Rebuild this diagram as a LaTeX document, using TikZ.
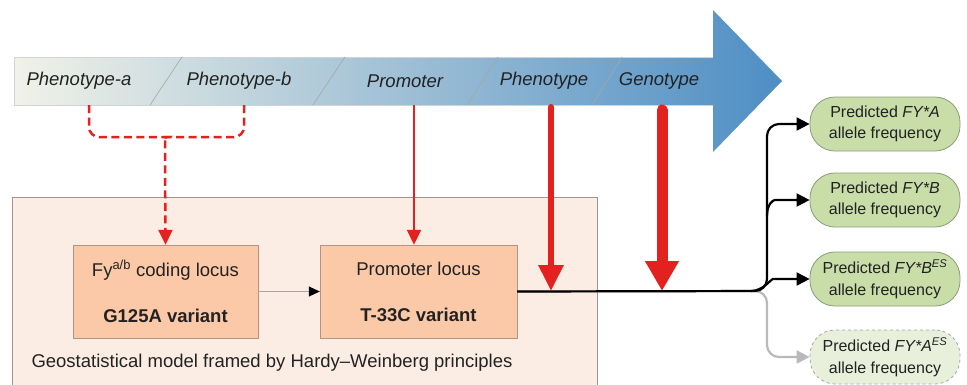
\documentclass[tikz,border=0pt]{standalone}
\usepackage{fontspec}
\setmainfont{Liberation Sans}
\usetikzlibrary{arrows.meta,calc}

\definecolor{fyred}{HTML}{E3211F}
\definecolor{peach}{HTML}{FCC9A8}
\definecolor{peachline}{HTML}{B39382}
\definecolor{bgpeach}{HTML}{FCEDE4}
\definecolor{bgline}{HTML}{9E9490}
\definecolor{leafgreen}{HTML}{C8DDA8}
\definecolor{leafline}{HTML}{8C9C78}
\definecolor{paleleaf}{HTML}{E8F0DB}
\definecolor{bandleft}{HTML}{F1F2E8}
\definecolor{bandmid}{HTML}{A8C4D7}
\definecolor{bandright}{HTML}{4E8EC4}
\definecolor{txt}{HTML}{222222}

\begin{document}
\begin{tikzpicture}[x=1pt,y=-1pt,
	every node/.style={text=txt},
	phase/.style={font=\fontsize{18.5}{20}\selectfont\itshape},
	locus/.style={draw=peachline,fill=peach,minimum height=93pt,align=center,font=\fontsize{18.5}{20}\selectfont},
	freq/.style={draw=leafline,fill=leafgreen,rounded corners=25pt,minimum width=150pt,minimum height=54pt,align=center,font=\fontsize{16}{21.5}\selectfont,line width=0.8pt},
	conn/.style={line width=2.2pt,rounded corners=12pt,-{Triangle[width=13pt,length=13pt]}},
	reddash/.style={fyred,line width=2.5pt,dash pattern=on 8pt off 4.5pt,-{Triangle[width=14pt,length=15pt]}}]
	\useasboundingbox (0,0) rectangle (967,384);
	%\draw[gray,step=50] (0,0) grid (967,384);

	% the big arrow
	\shade[left color=bandleft,middle color=bandmid,right color=bandright] (14,57) -- (713,57) -- (713,10) -- (782,81) -- (713,152) -- (713,105) -- (14,105) -- cycle;
	\draw[gray!35,line width=0.6pt] (713,57) -- (14,57) -- (14,105) -- (713,105);
	\foreach \xt/\xb in {182/150,345/313,498/467,622/592}
		\draw[gray!70,line width=0.6pt] (\xt,57) -- (\xb,105);
	\node[phase] (pa) at (79,81) {Phenotype-a};
	\node[phase] (pb) at (239,81) {Phenotype-b};
	\node[phase] (prom) at (405,81) {Promoter};
	\node[phase] (phen) at (544,81) {Phenotype};
	\node[phase] (geno) at (659,81) {Genotype};

	% model frame
	\node[draw=bgline,fill=bgpeach,line width=0.8pt,minimum width=585pt,minimum height=200pt,anchor=north west] (model) at (12,197) {};
	\node[anchor=west,font=\fontsize{18.5}{20}\selectfont] (hw) at (28,363) {Geostatistical model framed by Hardy--Weinberg principles};
	\node[locus,minimum width=185pt] (fy) at (165.5,291.5) {Fy\textsuperscript{a/b} coding locus\\[26pt]\textbf{G125A variant}};
	\node[locus,minimum width=197pt] (pl) at (418.5,291.5) {Promoter locus\\[26pt]\textbf{T-33C variant}};
	\draw[gray!70,line width=1pt,-{Triangle[width=10pt,length=11pt,black]}] (fy.east) -- (pl.west);

	% outcomes
	\node[freq] (fyA) at (885,124) {Predicted \textit{FY*A}\\allele frequency};
	\node[freq] (fyB) at (885,200) {Predicted \textit{FY*B}\\allele frequency};
	\node[freq] (fyBes) at (885,279) {Predicted \textit{FY*B\textsuperscript{ES}}\\allele frequency};
	\node[freq,fill=paleleaf,draw=gray!70,dashed] (fyAes) at (885,357) {Predicted \textit{FY*A\textsuperscript{ES}}\\allele frequency};

	\coordinate (split) at (767,291);
	\draw[conn,gray!55] (pl.east) -- (split) |- (fyAes.west);
	\draw[conn] (pl.east) -- (split) |- (fyA.west);
	\draw[conn] ($(split |- fyB.west)+(0,16)$) .. controls +(0,-12) and +(-14,0) .. ($(split |- fyB.west)+(20,0)$) -- (fyB.west);
	\draw[conn] ($(split)+(-16,0)$) .. controls +(12,0) and +(-14,0) .. ($(split |- fyBes.west)+(18,0)$) -- (fyBes.west);

	% red inputs
	\coordinate (dropA) at (89,105);
	\coordinate (dropB) at (244,105);
	\coordinate (brace) at (165,137);
	\draw[reddash,-,rounded corners=10pt] (dropB) |- ($(brace)+(-1,0)$);
	\draw[reddash,rounded corners=10pt] (dropA) |- ($(brace)+(-8,0)$) .. controls +(6,0) and +(0,-7) .. ($(brace)+(0,12)$) -- (fy.north);
	\draw[fyred,line width=2pt,-{Triangle[width=14pt,length=15pt]}] (414,105) -- (414,0 |- pl.north);
	\draw[fyred,line width=6pt,line cap=round,-{Triangle[width=24pt,length=26pt]}] (551,107) -- (551,0 |- split);
	\draw[fyred,line width=11pt,line cap=round,-{Triangle[width=32pt,length=30pt]}] (662,110) -- (662,0 |- split);
\end{tikzpicture}
\end{document}
